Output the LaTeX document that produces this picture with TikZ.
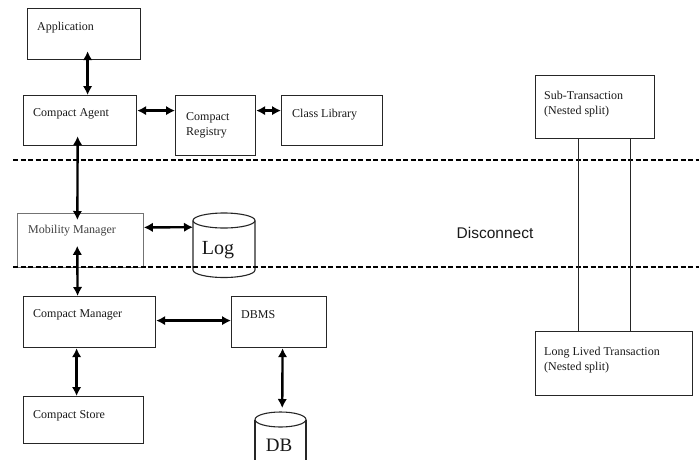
\documentclass[tikz,border=0pt]{standalone}
\usepackage{fontspec}
\setmainfont{Liberation Serif}
\newfontfamily\disfont{Liberation Sans}
\usetikzlibrary{arrows.meta}

\begin{document}
\begin{tikzpicture}[x=1pt,y=-1pt,
  box/.style={draw=black!85, line width=1.2pt, rectangle, inner sep=0pt, anchor=north west},
  lbl/.style={anchor=west, inner sep=0pt, font=\fontsize{12}{15}\selectfont, text=black!90, align=left},
  arr/.style={{Latex[length=9pt,width=9.5pt]}-{Latex[length=9pt,width=9.5pt]}, line width=2.4pt},
  sep/.style={dash pattern=on 5pt off 2.5pt, line width=1.6pt},
  link/.style={line width=1.5pt, draw=black!85}]
\useasboundingbox (0,0) rectangle (699,459);

% boxes
\node[box, minimum width=113pt, minimum height=51pt] (app) at (27,8) {};
\node[box, minimum width=113pt, minimum height=50pt] (ca) at (23,95) {};
\node[box, minimum width=80pt, minimum height=60pt] (cr) at (175,95) {};
\node[box, minimum width=101pt, minimum height=50pt] (cl) at (281,95) {};
\node[box, draw=black!55, line width=0.8pt, minimum width=126pt, minimum height=54pt] (mm) at (17,213) {};
\node[box, minimum width=132pt, minimum height=51pt] (cm) at (23,296) {};
\node[box, minimum width=95pt, minimum height=51pt] (dbms) at (231,296) {};
\node[box, minimum width=120pt, minimum height=47pt] (cs) at (23,396) {};
\node[box, minimum width=119pt, minimum height=63pt] (sub) at (535,75) {};
\node[box, minimum width=157pt, minimum height=64pt] (long) at (535,331) {};

% cylinders
\node[inner sep=0pt, minimum width=62pt, minimum height=64pt, anchor=north west] (log) at (193,213) {};
\draw[black!85, line width=1.1pt] (224,220.5) ellipse [x radius=31pt, y radius=7.5pt];
\draw[black!85, line width=1.1pt] (193,220.5) -- (193,270)
  arc[start angle=180, end angle=360, x radius=31pt, y radius=7.5pt] -- (255,220.5);
\node[inner sep=0pt, minimum width=51pt, minimum height=47pt, anchor=north west] (db) at (255,412) {};
\draw[black!85, line width=1.1pt] (280.5,419.5) ellipse [x radius=25.5pt, y radius=7.5pt];
\draw[black!85, line width=1.1pt] (255,419.5) -- (255,462) (306,419.5) -- (306,462);

% labels
\node[lbl] (app-t) at (37,28) {Application};
\node[lbl] (ca-t) at (33,114) {Compact Agent};
\node[lbl] (cr-t) at (186,125) {Compact\\Registry};
\node[lbl] (cl-t) at (292,115) {Class Library};
\node[lbl, text=black!75] (mm-t) at (28,231) {Mobility Manager};
\node[lbl] (cm-t) at (33,315) {Compact Manager};
\node[lbl] (dbms-t) at (241,315) {DBMS};
\node[lbl] (cs-t) at (33,416) {Compact Store};
\node[lbl] (sub-t) at (544,104) {Sub-Transaction\\(Nested split)};
\node[lbl] (long-t) at (544,360) {Long Lived Transaction\\(Nested split)};
\node[inner sep=0pt, font=\fontsize{20}{22}\selectfont, text=black!90] (log-t) at (218,250) {Log};
\node[inner sep=0pt, font=\fontsize{19}{22}\selectfont, text=black!90] (db-t) at (279,445) {DB};
\node[inner sep=0pt, font=\disfont\fontsize{15.5}{18}\selectfont, text=black!90] (disc) at (495,233) {Disconnect};

% separators
\coordinate (s1a) at (13,160); \coordinate (s1b) at (699,160);
\coordinate (s2a) at (13,267); \coordinate (s2b) at (699,267);
\draw[sep] (s1a) -- (s1b);
\draw[sep] (s2a) -- (s2b);

% connectors
\draw[arr, shorten <=-9pt] ([xshift=3.5pt]app.south) -- ([xshift=7.5pt]ca.north);
\draw[arr, shorten <=-10pt, shorten >=-7pt] ([xshift=-2.5pt]ca.south) -- ([xshift=-3pt]mm.north);
\draw[arr] ([yshift=10pt]ca.east) -- ([yshift=15pt]cr.west);
\draw[arr] ([yshift=15pt]cr.east) -- ([yshift=10pt]cl.west);
\draw[arr] ([yshift=13pt]mm.east) -- ([yshift=18pt]log.west);
\draw[arr, shorten <=-22pt] ([xshift=-3pt]mm.south) -- ([xshift=-12pt]cm.north);
\draw[arr] ([yshift=1.5pt]cm.east) -- ([yshift=1.5pt]dbms.west);
\draw[arr] ([xshift=-13pt]cm.south) -- ([xshift=-7pt]cs.north);
\draw[arr, shorten >=4pt] ([xshift=3.5pt]dbms.south) -- ([xshift=1.5pt]db.north);
\draw[link] ([xshift=-16.5pt]sub.south) -- ([xshift=-35.5pt]long.north);
\draw[link] ([xshift=35.5pt]sub.south) -- ([xshift=16.5pt]long.north);
\end{tikzpicture}
\end{document}
